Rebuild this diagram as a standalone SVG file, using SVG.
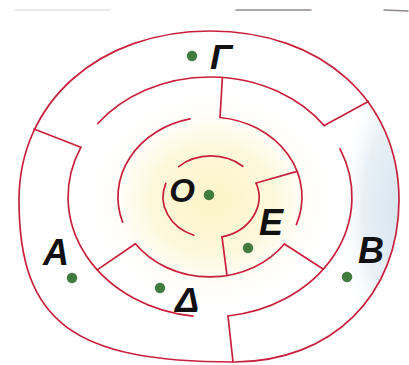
<svg xmlns="http://www.w3.org/2000/svg" width="409" height="365" viewBox="0 0 409 365">
  <defs>
    <radialGradient id="glow" cx="0.5" cy="0.5" r="0.5">
      <stop offset="0" stop-color="#fcf4c6"/>
      <stop offset="0.5" stop-color="#fdf8dc"/>
      <stop offset="1" stop-color="#ffffff" stop-opacity="0"/>
    </radialGradient>
    <radialGradient id="blue" cx="0.5" cy="0.5" r="0.5">
      <stop offset="0" stop-color="#d8e5ef"/>
      <stop offset="0.6" stop-color="#e8f0f6"/>
      <stop offset="1" stop-color="#ffffff" stop-opacity="0"/>
    </radialGradient>
    <clipPath id="outerClip">
      <path d="M 210 31 C 321.5 31 399 100.3 399 200 C 399 295.6 331.4 362 234 362 C 72.75 362 19 321.5 19 200 C 19 102 99.2 31 210 31 Z"/>
    </clipPath>
    <style>
      .wall { fill: none; stroke: #c8203c; stroke-width: 1.7; stroke-linecap: round; stroke-linejoin: round; }
      .dot { fill: #3f7d3c; stroke: #2f6430; stroke-width: 0.8; }
      .lbl { font-family: "Liberation Sans", Arial, sans-serif; font-style: italic; font-weight: bold; font-size: 36px; fill: #111111; text-anchor: middle; }
      .scan { stroke-linecap: round; fill: none; }
    </style>
  </defs>
  <rect x="0" y="0" width="409" height="365" fill="#ffffff"/>
  <!-- scan artifacts at top -->
  <line class="scan" x1="15" y1="10" x2="110" y2="10" stroke="#e2e2e2" stroke-width="1.5"/>
  <line class="scan" x1="236" y1="10" x2="311" y2="10" stroke="#6e5f66" stroke-width="1.4" opacity="0.75"/>
  <line class="scan" x1="384" y1="10" x2="408" y2="11" stroke="#6e5f66" stroke-width="1.4" opacity="0.75"/>
  <!-- shading -->
  <g clip-path="url(#outerClip)">
    <ellipse cx="400" cy="210" rx="62" ry="150" fill="url(#blue)"/>
  </g>
  <ellipse cx="212" cy="200" rx="125" ry="110" fill="url(#glow)"/>

  <g id="maze">
    <path id="ring1" class="wall" d="M 210 31 C 321.5 31 399 100.3 399 200 C 399 295.6 331.4 362 234 362 C 72.75 362 19 321.5 19 200 C 19 102 99.2 31 210 31 Z"/>
    <g id="ring2">
      <path class="wall" d="M 80.8 147.3 A 142 120 0 0 0 193 316.1"/>
      <path class="wall" d="M 97.8 123.5 A 142 120 0 0 1 324.2 125.6"/>
      <path class="wall" d="M 340 148.8 A 142 120 0 0 1 228 316"/>
    </g>
    <g id="ring3">
      <path class="wall" d="M 190 118.9 A 92 80 0 0 0 122.6 222.1"/>
      <path class="wall" d="M 135.4 243.8 A 92 80 0 0 0 284.4 244"/>
      <path class="wall" d="M 220 117.5 A 92 80 0 0 1 296.4 224.5"/>
    </g>
    <g id="ring4">
      <path class="wall" d="M 178.7 166.6 A 48 41 0 0 1 242.8 166.3"/>
      <path class="wall" d="M 165.8 183.3 A 48 41 0 0 0 193.8 235.3"/>
      <path class="wall" d="M 256.1 183 A 48 41 0 0 1 222 236.9"/>
    </g>
  </g>
  <g id="connectors">
    <path class="wall" d="M 222.4 77.5 L 220 117.5"/>
    <path class="wall" d="M 324.2 125.6 L 368.3 101.5"/>
    <path class="wall" d="M 297.1 171.4 L 256.1 183"/>
    <path class="wall" d="M 222 236.9 L 227 275.6"/>
    <path class="wall" d="M 34 129 L 80.8 147.3"/>
    <path class="wall" d="M 97.2 269.9 L 135.4 243.8"/>
    <path class="wall" d="M 323.4 269.2 L 284.4 244"/>
    <path class="wall" d="M 228 316 L 233 362"/>
  </g>

  <g id="pointG">
    <circle class="dot" cx="192" cy="56" r="4.8"/>
    <text class="lbl" x="221" y="69">Γ</text>
  </g>
  <g id="pointO">
    <circle class="dot" cx="209" cy="195" r="4.8"/>
    <text class="lbl" x="182" y="202" style="font-size:33px">O</text>
  </g>
  <g id="pointE">
    <circle class="dot" cx="248" cy="248" r="4.8"/>
    <text class="lbl" x="271" y="235">E</text>
  </g>
  <g id="pointA">
    <circle class="dot" cx="72" cy="278" r="4.8"/>
    <text class="lbl" x="56" y="265">A</text>
  </g>
  <g id="pointD">
    <circle class="dot" cx="160" cy="288" r="4.8"/>
    <text class="lbl" x="187" y="312">Δ</text>
  </g>
  <g id="pointB">
    <circle class="dot" cx="347" cy="277" r="4.8"/>
    <text class="lbl" x="371" y="263">B</text>
  </g>
</svg>
